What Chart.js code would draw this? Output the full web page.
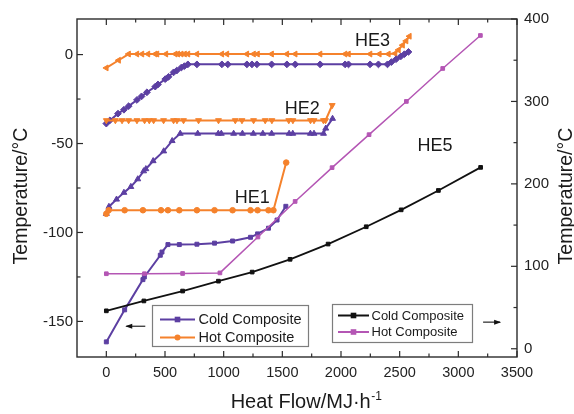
<!DOCTYPE html>
<html><head><meta charset="utf-8">
<script src="https://cdn.jsdelivr.net/npm/chart.js@4.4.0/dist/chart.umd.min.js"></script>
<style>html,body{margin:0;padding:0;background:#fff;}canvas{display:block;}</style>
</head><body>
<canvas id="c" width="574" height="414"></canvas>
<script>
// ---------- data ----------
const he1ColdQ = [0, 156, 312, 324, 460, 474, 525, 622, 772, 922, 1076, 1229, 1289, 1382, 1455, 1530];
const he1ColdT = [-161.5, -143.5, -126.5, -125, -112.8, -111, -106.8, -106.8, -106.6, -106, -104.8, -102.7, -100.8, -97.6, -93, -85.3];
const he1HotQ  = [0, 20, 156, 312, 466, 525, 622, 772, 922, 1076, 1229, 1289, 1382, 1424, 1533];
const he1HotT  = [-89.5, -87.5, -87.5, -87.5, -87.5, -87.5, -87.5, -87.5, -87.5, -87.5, -87.5, -87.5, -87.5, -87.5, -60.7];

const he2ColdQ = [0, 22, 87, 150, 209, 268, 318, 337, 399, 489, 561, 630, 779, 954, 980, 1085, 1160, 1253, 1334, 1409, 1558, 1589, 1739, 1770, 1851, 1870, 1928];
const he2ColdT = [-89.5, -85.5, -81.4, -77.6, -74.3, -70, -65.5, -64.3, -59.8, -54.3, -48.5, -44.4, -44.4, -44.4, -44.4, -44.4, -44.4, -44.4, -44.4, -44.4, -44.4, -44.4, -44.4, -44.4, -44.4, -41.5, -36];
const he2HotQ  = [0, 77, 134, 190, 261, 326, 366, 403, 488, 573, 602, 658, 786, 956, 1099, 1156, 1255, 1354, 1411, 1555, 1590, 1740, 1770, 1850, 1868, 1925];
const he2HotT  = [-37, -37, -37, -37, -37, -37, -37, -37, -37, -37, -37, -37, -37, -37, -37, -37, -37, -37, -37, -37, -37, -37, -37, -37, -37, -28.5];

const he3ColdQ = [0, 30, 99, 150, 190, 261, 300, 346, 417, 440, 502, 530, 573, 600, 639, 665, 695, 772, 985, 1035, 1198, 1241, 1283, 1409, 1539, 1610, 1822, 2035, 2064, 2248, 2319, 2396, 2430, 2470, 2510, 2540, 2575];
const he3ColdT = [-38.8, -37, -33.2, -31, -29, -25.5, -23.5, -21.2, -18, -16.8, -13.8, -12.5, -10, -9, -7.3, -6.5, -5.5, -5.5, -5.5, -5.5, -5.5, -5.5, -5.5, -5.5, -5.5, -5.5, -5.5, -5.5, -5.5, -5.5, -5.5, -5.5, -4.2, -2.6, -1, 0.2, 1.5];
const he3HotQ  = [0, 105, 190, 261, 304, 355, 417, 432, 508, 588, 610, 639, 667, 696, 772, 985, 1028, 1198, 1255, 1289, 1409, 1539, 1610, 1822, 2035, 2064, 2248, 2327, 2404, 2461, 2490, 2525, 2555, 2583];
const he3HotT  = [-7.5, -3.2, 0.3, 0.3, 0.3, 0.3, 0.3, 0.3, 0.3, 0.3, 0.3, 0.3, 0.3, 0.3, 0.3, 0.3, 0.3, 0.3, 0.3, 0.3, 0.3, 0.3, 0.3, 0.3, 0.3, 0.3, 0.3, 0.3, 0.3, 0.6, 2.6, 5.3, 7.7, 10.3];

const he5ColdQ = [0, 320, 650, 955, 1243, 1566, 1890, 2215, 2513, 2830, 3190];
const he5ColdT = [46, 58, 70, 82, 93, 108.5, 127, 148, 168.5, 192, 220];
const he5HotQ  = [0, 325, 650, 968, 1292, 1609, 1924, 2239, 2557, 2867, 3188];
const he5HotT  = [91, 91, 91.3, 92, 135.5, 178.7, 219.7, 259.7, 300, 340, 380];

const xTicks  = [0, 500, 1000, 1500, 2000, 2500, 3000, 3500];
const yTicks  = [-150, -100, -50, 0];
const y2Ticks = [0, 100, 200, 300, 400];
const xMinor  = [250, 750, 1250, 1750, 2250, 2750, 3250];
const yMinor  = [-125, -75, -25];
const y2Minor = [50, 150, 250, 350];

const heLabels = [
  {text: 'HE1', x: 1243, y: -80.5, axis: 'y'},
  {text: 'HE2', x: 1669, y: -30.4, axis: 'y'},
  {text: 'HE3', x: 2269, y: 7.5, axis: 'y'},
  {text: 'HE5', x: 2802, y: -51.5, axis: 'y'}
];

// ---------- styles ----------
const FONT = '"Liberation Sans", Arial, Helvetica, sans-serif';
const PURPLE = '#5C3FA2';
const ORANGE = '#F5822C';
const MAGENTA = '#B456B4';
const BLACK = '#111111';

const pts = (q, t) => q.map((v, i) => ({x: v, y: t[i]}));

function ds(label, q, t, color, style, axis, opts) {
  return Object.assign({
    label, data: pts(q, t), yAxisID: axis,
    borderColor: color, backgroundColor: color,
    pointBackgroundColor: color, pointBorderColor: color,
    pointStyle: style, pointRadius: 3, pointBorderWidth: 1,
    borderWidth: 2, tension: 0, fill: false
  }, opts || {});
}

const datasets = [
  ds('HE5 Cold Composite', he5ColdQ, he5ColdT, BLACK, 'rect', 'y2', {pointRadius: 2.6, borderWidth: 1.8}),
  ds('HE5 Hot Composite', he5HotQ, he5HotT, MAGENTA, 'rect', 'y2', {pointRadius: 2.6, borderWidth: 1.5}),
  ds('HE1 Cold Composite', he1ColdQ, he1ColdT, PURPLE, 'rect', 'y', {pointRadius: 2.8}),
  ds('HE1 Hot Composite', he1HotQ, he1HotT, ORANGE, 'circle', 'y', {pointRadius: 2.8}),
  ds('HE2 Cold Composite', he2ColdQ, he2ColdT, PURPLE, 'triangle', 'y', {pointRadius: 3.4}),
  ds('HE2 Hot Composite', he2HotQ, he2HotT, ORANGE, 'triangle', 'y', {pointRadius: 3.4, pointRotation: 180}),
  ds('HE3 Cold Composite', he3ColdQ, he3ColdT, PURPLE, 'rectRot', 'y', {pointRadius: 3.4}),
  ds('HE3 Hot Composite', he3HotQ, he3HotT, ORANGE, 'triangle', 'y', {pointRadius: 3.4, pointRotation: 270})
];

// ---------- decorations ----------
function line(ctx, x1, y1, x2, y2) { ctx.beginPath(); ctx.moveTo(x1, y1); ctx.lineTo(x2, y2); ctx.stroke(); }

function marker(ctx, style, color, x, y) {
  ctx.fillStyle = color;
  if (style === 'circle') { ctx.beginPath(); ctx.arc(x, y, 3, 0, Math.PI * 2); ctx.fill(); }
  else { ctx.fillRect(x - 2.8, y - 2.8, 5.6, 5.6); }
}

function drawLegend(ctx, box, rows, fontSize) {
  ctx.save();
  ctx.fillStyle = '#fff';
  ctx.fillRect(box.x, box.y, box.w, box.h);
  ctx.strokeStyle = '#7d7d7d'; ctx.lineWidth = 1.2;
  ctx.strokeRect(box.x + 0.5, box.y + 0.5, box.w - 1, box.h - 1);
  rows.forEach((r, i) => {
    const yy = box.y + box.row0 + i * box.dy;
    ctx.strokeStyle = r.color; ctx.lineWidth = 2;
    line(ctx, box.x + box.lx0, yy, box.x + box.lx1, yy);
    marker(ctx, r.style, r.color, box.x + (box.lx0 + box.lx1) / 2, yy);
    ctx.fillStyle = '#1a1a1a';
    ctx.font = fontSize + 'px ' + FONT;
    ctx.textAlign = 'left'; ctx.textBaseline = 'middle';
    ctx.fillText(r.text, box.x + box.tx, yy + 0.5);
  });
  ctx.restore();
}

function arrow(ctx, x1, x2, y) {
  ctx.strokeStyle = '#111'; ctx.fillStyle = '#111'; ctx.lineWidth = 1.1;
  line(ctx, x1, y, x2, y);
  const d = Math.sign(x2 - x1);
  ctx.beginPath(); ctx.moveTo(x2 + d * 1, y); ctx.lineTo(x2 - d * 6, y - 2.5); ctx.lineTo(x2 - d * 6, y + 2.5); ctx.closePath(); ctx.fill();
}

const decor = {
  id: 'decor',
  afterDatasetsDraw(chart) {
    const {ctx, chartArea: a, scales} = chart;
    const sx = scales.x, sy = scales.y, sy2 = scales.y2;
    ctx.save();
    // frame
    ctx.strokeStyle = '#2b2b2b'; ctx.lineWidth = 1.4;
    ctx.strokeRect(a.left, a.top, a.right - a.left, a.bottom - a.top);
    ctx.lineWidth = 1.2;
    xTicks.forEach(v => { const p = sx.getPixelForValue(v); line(ctx, p, a.bottom, p, a.bottom - 6); line(ctx, p, a.top, p, a.top + 6); });
    xMinor.forEach(v => { const p = sx.getPixelForValue(v); line(ctx, p, a.bottom, p, a.bottom - 3.5); line(ctx, p, a.top, p, a.top + 3.5); });
    yTicks.forEach(v => { const p = sy.getPixelForValue(v); line(ctx, a.left, p, a.left + 6, p); });
    yMinor.forEach(v => { const p = sy.getPixelForValue(v); line(ctx, a.left, p, a.left + 3.5, p); });
    y2Ticks.forEach(v => { const p = sy2.getPixelForValue(v); line(ctx, a.right, p, a.right - 6, p); });
    y2Minor.forEach(v => { const p = sy2.getPixelForValue(v); line(ctx, a.right, p, a.right - 3.5, p); });

    // HE labels
    ctx.fillStyle = '#1a1a1a';
    ctx.font = '18px ' + FONT;
    ctx.textAlign = 'center'; ctx.textBaseline = 'middle';
    heLabels.forEach(l => ctx.fillText(l.text, sx.getPixelForValue(l.x), scales[l.axis].getPixelForValue(l.y)));

    // legends
    drawLegend(ctx, {x: a.left + 75, y: a.top + 286, w: 157, h: 42, row0: 14.5, dy: 18, lx0: 8, lx1: 43, tx: 46.5},
      [{text: 'Cold Composite', color: PURPLE, style: 'rect'}, {text: 'Hot Composite', color: ORANGE, style: 'circle'}], 14.5);
    drawLegend(ctx, {x: a.left + 255, y: a.top + 285, w: 141, h: 39, row0: 11.5, dy: 16.5, lx0: 6, lx1: 37, tx: 39.5},
      [{text: 'Cold Composite', color: BLACK, style: 'rect'}, {text: 'Hot Composite', color: MAGENTA, style: 'rect'}], 13);

    // arrows
    arrow(ctx, sx.getPixelForValue(332), sx.getPixelForValue(170), sy.getPixelForValue(-152.7));
    arrow(ctx, sx.getPixelForValue(3211), sx.getPixelForValue(3356), sy2.getPixelForValue(32.3));

    // axis titles
    ctx.fillStyle = '#1a1a1a';
    ctx.textBaseline = 'alphabetic';
    const main = 'Heat Flow/MJ·h', sup = '-1';
    ctx.font = '20px ' + FONT; const w1 = ctx.measureText(main).width;
    ctx.font = '12px ' + FONT; const w2 = ctx.measureText(sup).width;
    const cx = (a.left + a.right) / 2 + 9;
    const x0 = cx - (w1 + w2) / 2;
    ctx.textAlign = 'left';
    ctx.font = '20px ' + FONT; ctx.fillText(main, x0, 408);
    ctx.font = '12px ' + FONT; ctx.fillText(sup, x0 + w1 + 0.5, 400);

    const cy = (a.top + a.bottom) / 2 + 8;
    ctx.font = '19.5px ' + FONT; ctx.textAlign = 'center';
    ctx.save(); ctx.translate(27, cy); ctx.rotate(-Math.PI / 2); ctx.fillText('Temperature/°C', 0, 0); ctx.restore();
    ctx.save(); ctx.translate(572, cy); ctx.rotate(-Math.PI / 2); ctx.fillText('Temperature/°C', 0, 0); ctx.restore();
    ctx.restore();
  }
};

const tickFont = {family: FONT, size: 14.5};
const noGrid = {display: false, drawTicks: false};
new Chart(document.getElementById('c'), {
  type: 'line',
  data: {datasets},
  options: {
    responsive: false, devicePixelRatio: 1, animation: false,
    layout: {padding: {top: 19, left: 0, right: 0, bottom: 0}},
    plugins: {legend: {display: false}, tooltip: {enabled: false}},
    scales: {
      x: {
        type: 'linear', min: -250, max: 3500,
        grid: noGrid, border: {display: false},
        ticks: {font: tickFont, color: '#222', padding: 7.5, autoSkip: false, maxRotation: 0, callback: v => String(v)},
        afterBuildTicks: s => { s.ticks = xTicks.map(v => ({value: v})); },
        afterFit: s => { s.height = 57; }
      },
      y: {
        type: 'linear', position: 'left', min: -170, max: 20,
        grid: noGrid, border: {display: false},
        ticks: {font: {family: FONT, size: 15}, color: '#222', padding: 4, autoSkip: false, callback: v => String(v)},
        afterBuildTicks: s => { s.ticks = yTicks.map(v => ({value: v})); },
        afterFit: s => { s.width = 77; }
      },
      y2: {
        type: 'linear', position: 'right', min: -10, max: 400,
        grid: noGrid, border: {display: false},
        ticks: {font: {family: FONT, size: 15}, color: '#222', padding: 7, autoSkip: false, callback: v => String(v)},
        afterBuildTicks: s => { s.ticks = y2Ticks.map(v => ({value: v})); },
        afterFit: s => { s.width = 57; }
      }
    }
  },
  plugins: [decor]
});
</script>
</body></html>
